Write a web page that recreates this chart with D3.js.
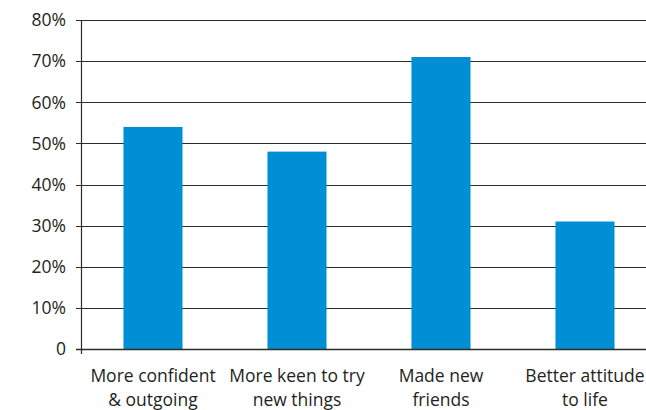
<!DOCTYPE html>
<html>
<head>
<meta charset="utf-8">
<script src="https://cdn.jsdelivr.net/npm/d3@7"></script>
<style>
  html, body { margin: 0; padding: 0; background: #fff; }
  svg { display: block; }
  text { font-family: "Open Sans", "Noto Sans", sans-serif; fill: #231f20; }
</style>
</head>
<body>
<svg id="chart" width="646" height="410"></svg>
<script>
// Categories (two-line labels) and percentage values
const categories = [
  ["More confident", "& outgoing"],
  ["More keen to try", "new things"],
  ["Made new", "friends"],
  ["Better attitude", "to life"]
];
const values = [54, 48, 71, 31];
const tickValues = [0, 10, 20, 30, 40, 50, 60, 70, 80];
const tickLabels = ["0", "10%", "20%", "30%", "40%", "50%", "60%", "70%", "80%"];

const svg = d3.select("#chart");
const plotLeft = 81, plotRight = 657, plotTop = 20, plotBottom = 349;

const x = d3.scaleBand()
  .domain(d3.range(categories.length))
  .range([plotLeft, plotRight])
  .paddingInner(0.59)
  .paddingOuter(0.295);

const y = d3.scaleLinear().domain([0, 80]).range([plotBottom, plotTop]);

// Horizontal gridlines
svg.append("g")
  .selectAll("line")
  .data(tickValues)
  .join("line")
  .attr("x1", plotLeft - 5)
  .attr("x2", 646)
  .attr("y1", d => Math.round(y(d)) + 0.5)
  .attr("y2", d => Math.round(y(d)) + 0.5)
  .attr("stroke", "#2b2b2b")
  .attr("stroke-width", 1.2);

// Bars
svg.append("g")
  .selectAll("rect")
  .data(values)
  .join("rect")
  .attr("x", (d, i) => x(i))
  .attr("width", x.bandwidth())
  .attr("y", d => y(d))
  .attr("height", d => y(0) - y(d))
  .attr("fill", "#008fd5");

// Baseline drawn over bars
svg.append("line")
  .attr("x1", plotLeft - 5).attr("x2", 646)
  .attr("y1", Math.round(y(0)) + 0.5).attr("y2", Math.round(y(0)) + 0.5)
  .attr("stroke", "#2b2b2b").attr("stroke-width", 1.4);

// Vertical axis
svg.append("line")
  .attr("x1", plotLeft + 0.5).attr("x2", plotLeft + 0.5)
  .attr("y1", plotTop).attr("y2", plotBottom + 5)
  .attr("stroke", "#2b2b2b").attr("stroke-width", 1.2);

// Y tick labels
svg.append("g")
  .selectAll("text")
  .data(tickValues)
  .join("text")
  .attr("x", 66)
  .attr("y", d => y(d))
  .attr("dy", "0.36em")
  .attr("text-anchor", "end")
  .attr("font-size", 17.5)
  .text((d, i) => tickLabels[i]);

// Category labels
const lab = svg.append("g")
  .selectAll("text")
  .data(categories)
  .join("text")
  .attr("text-anchor", "middle")
  .attr("font-size", 17.5)
  .attr("x", (d, i) => x(i) + x.bandwidth() / 2);
lab.selectAll("tspan")
  .data(d => d)
  .join("tspan")
  .attr("x", function () { return d3.select(this.parentNode).attr("x"); })
  .attr("y", (d, j) => 382 + j * 24)
  .text(d => d);
</script>
</body>
</html>
